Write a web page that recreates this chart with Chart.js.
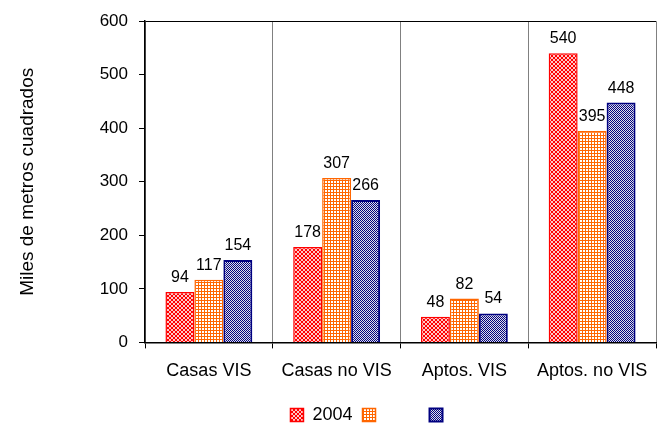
<!DOCTYPE html>
<html>
<head>
<meta charset="utf-8">
<script src="https://cdn.jsdelivr.net/npm/chart.js@4.4.1/dist/chart.umd.min.js"></script>
<style>
  html, body { margin: 0; padding: 0; background: #fff; }
  #wrap { width: 662px; height: 426px; }
</style>
</head>
<body>
<div id="wrap"><canvas id="chart" width="662" height="426"></canvas></div>
<script>
const categories = ['Casas VIS', 'Casas no VIS', 'Aptos. VIS', 'Aptos. no VIS'];
const seriesNames = ['2004', '', ''];
const series2004 = [94, 178, 48, 540];
const series2 = [117, 307, 82, 395];
const series3 = [154, 266, 54, 448];
const yTicks = [0, 100, 200, 300, 400, 500, 600];

const FONT = "'Liberation Sans', Arial, sans-serif";

// small tiles used as bar fills
function makePattern(size, paint) {
    const c = document.createElement('canvas');
    c.width = size;
    c.height = size;
    const g = c.getContext('2d');
    paint(g);
    return g.createPattern(c, 'repeat');
}

const redFill = makePattern(4, g => {
    g.fillStyle = '#ffc8c8';
    g.fillRect(0, 0, 4, 4);
    g.fillStyle = '#ff0000';
    for (let i = 0; i < 4; i++) {
        g.fillRect(i, i, 1, 1);
        g.fillRect(3 - i, i, 1, 1);
    }
});

const orangeFill = makePattern(3, g => {
    g.fillStyle = '#ffffff';
    g.fillRect(0, 0, 3, 3);
    g.fillStyle = '#ff6600';
    g.fillRect(0, 0, 3, 1);
    g.fillRect(0, 0, 1, 3);
});

const blueFill = makePattern(2, g => {
    g.fillStyle = '#e0e0e8';
    g.fillRect(0, 0, 2, 2);
    g.fillStyle = '#000080';
    g.fillRect(0, 0, 1, 1);
    g.fillRect(1, 1, 1, 1);
});

const valueLabels = {
    id: 'valueLabels',
    afterDatasetsDraw(chart) {
        const ctx = chart.ctx;
        ctx.save();
        ctx.font = '16px ' + FONT;
        ctx.fillStyle = '#000';
        ctx.textAlign = 'center';
        ctx.textBaseline = 'alphabetic';
        chart.data.datasets.forEach((ds, i) => {
            chart.getDatasetMeta(i).data.forEach((bar, j) => {
                ctx.fillText(String(ds.data[j]), bar.x, bar.y - 10);
            });
        });
        ctx.restore();
    }
};

// center the legend under the plot area and drop it a little
const legendShift = {
    id: 'legendShift',
    afterLayout(chart) {
        const lg = chart.legend;
        const area = chart.chartArea;
        lg.left = area.left - 12;
        lg.right = area.right - 12;
        lg.top += 8;
        lg.bottom += 8;
    }
};

new Chart(document.getElementById('chart'), {
    type: 'bar',
    data: {
        labels: categories,
        datasets: [
            { label: seriesNames[0], data: series2004, backgroundColor: redFill, borderColor: '#ff0000', borderWidth: 1.5 },
            { label: seriesNames[1], data: series2, backgroundColor: orangeFill, borderColor: '#ff6600', borderWidth: 1.5 },
            { label: seriesNames[2], data: series3, backgroundColor: blueFill, borderColor: '#000080', borderWidth: 2 }
        ]
    },
    options: {
        responsive: false,
        animation: false,
        categoryPercentage: 0.68,
        barPercentage: 1.0,
        layout: { padding: { left: 0, right: 6, top: 19, bottom: 0 } },
        plugins: {
            tooltip: { enabled: false },
            legend: {
                position: 'bottom',
                labels: {
                    font: { family: FONT, size: 18 },
                    color: '#000',
                    boxWidth: 13,
                    boxHeight: 13,
                    padding: 10,
                    generateLabels(chart) {
                        const items = Chart.defaults.plugins.legend.labels.generateLabels(chart);
                        items.forEach(it => {
                            if (!it.text) it.text = ' '.repeat(7);
                        });
                        return items;
                    }
                }
            }
        },
        scales: {
            x: {
                offset: true,
                afterFit(scale) {
                    scale.height -= 6;
                },
                grid: {
                    offset: true,
                    color: '#808080',
                    tickColor: '#000',
                    tickLength: 6
                },
                border: { color: '#000', width: 1.5 },
                ticks: {
                    font: { family: FONT, size: 18 },
                    color: '#000',
                    padding: 12
                }
            },
            y: {
                min: 0,
                max: 600,
                afterBuildTicks(scale) {
                    scale.ticks = yTicks.map(v => ({ value: v }));
                },
                afterFit(scale) {
                    scale.width = 145;
                },
                grid: {
                    color: ctx => (ctx.tick && ctx.tick.value === 600 ? '#000' : 'rgba(0,0,0,0)'),
                    tickColor: '#000',
                    tickLength: 6
                },
                border: { color: '#000', width: 1.5 },
                ticks: {
                    font: { family: FONT, size: 17 },
                    color: '#000',
                    padding: 11
                },
                title: {
                    display: true,
                    text: 'Miles de metros cuadrados',
                    font: { family: FONT, size: 19 },
                    color: '#000',
                    padding: { top: 16, bottom: 0 }
                }
            }
        }
    },
    plugins: [valueLabels, legendShift]
});
</script>
</body>
</html>
